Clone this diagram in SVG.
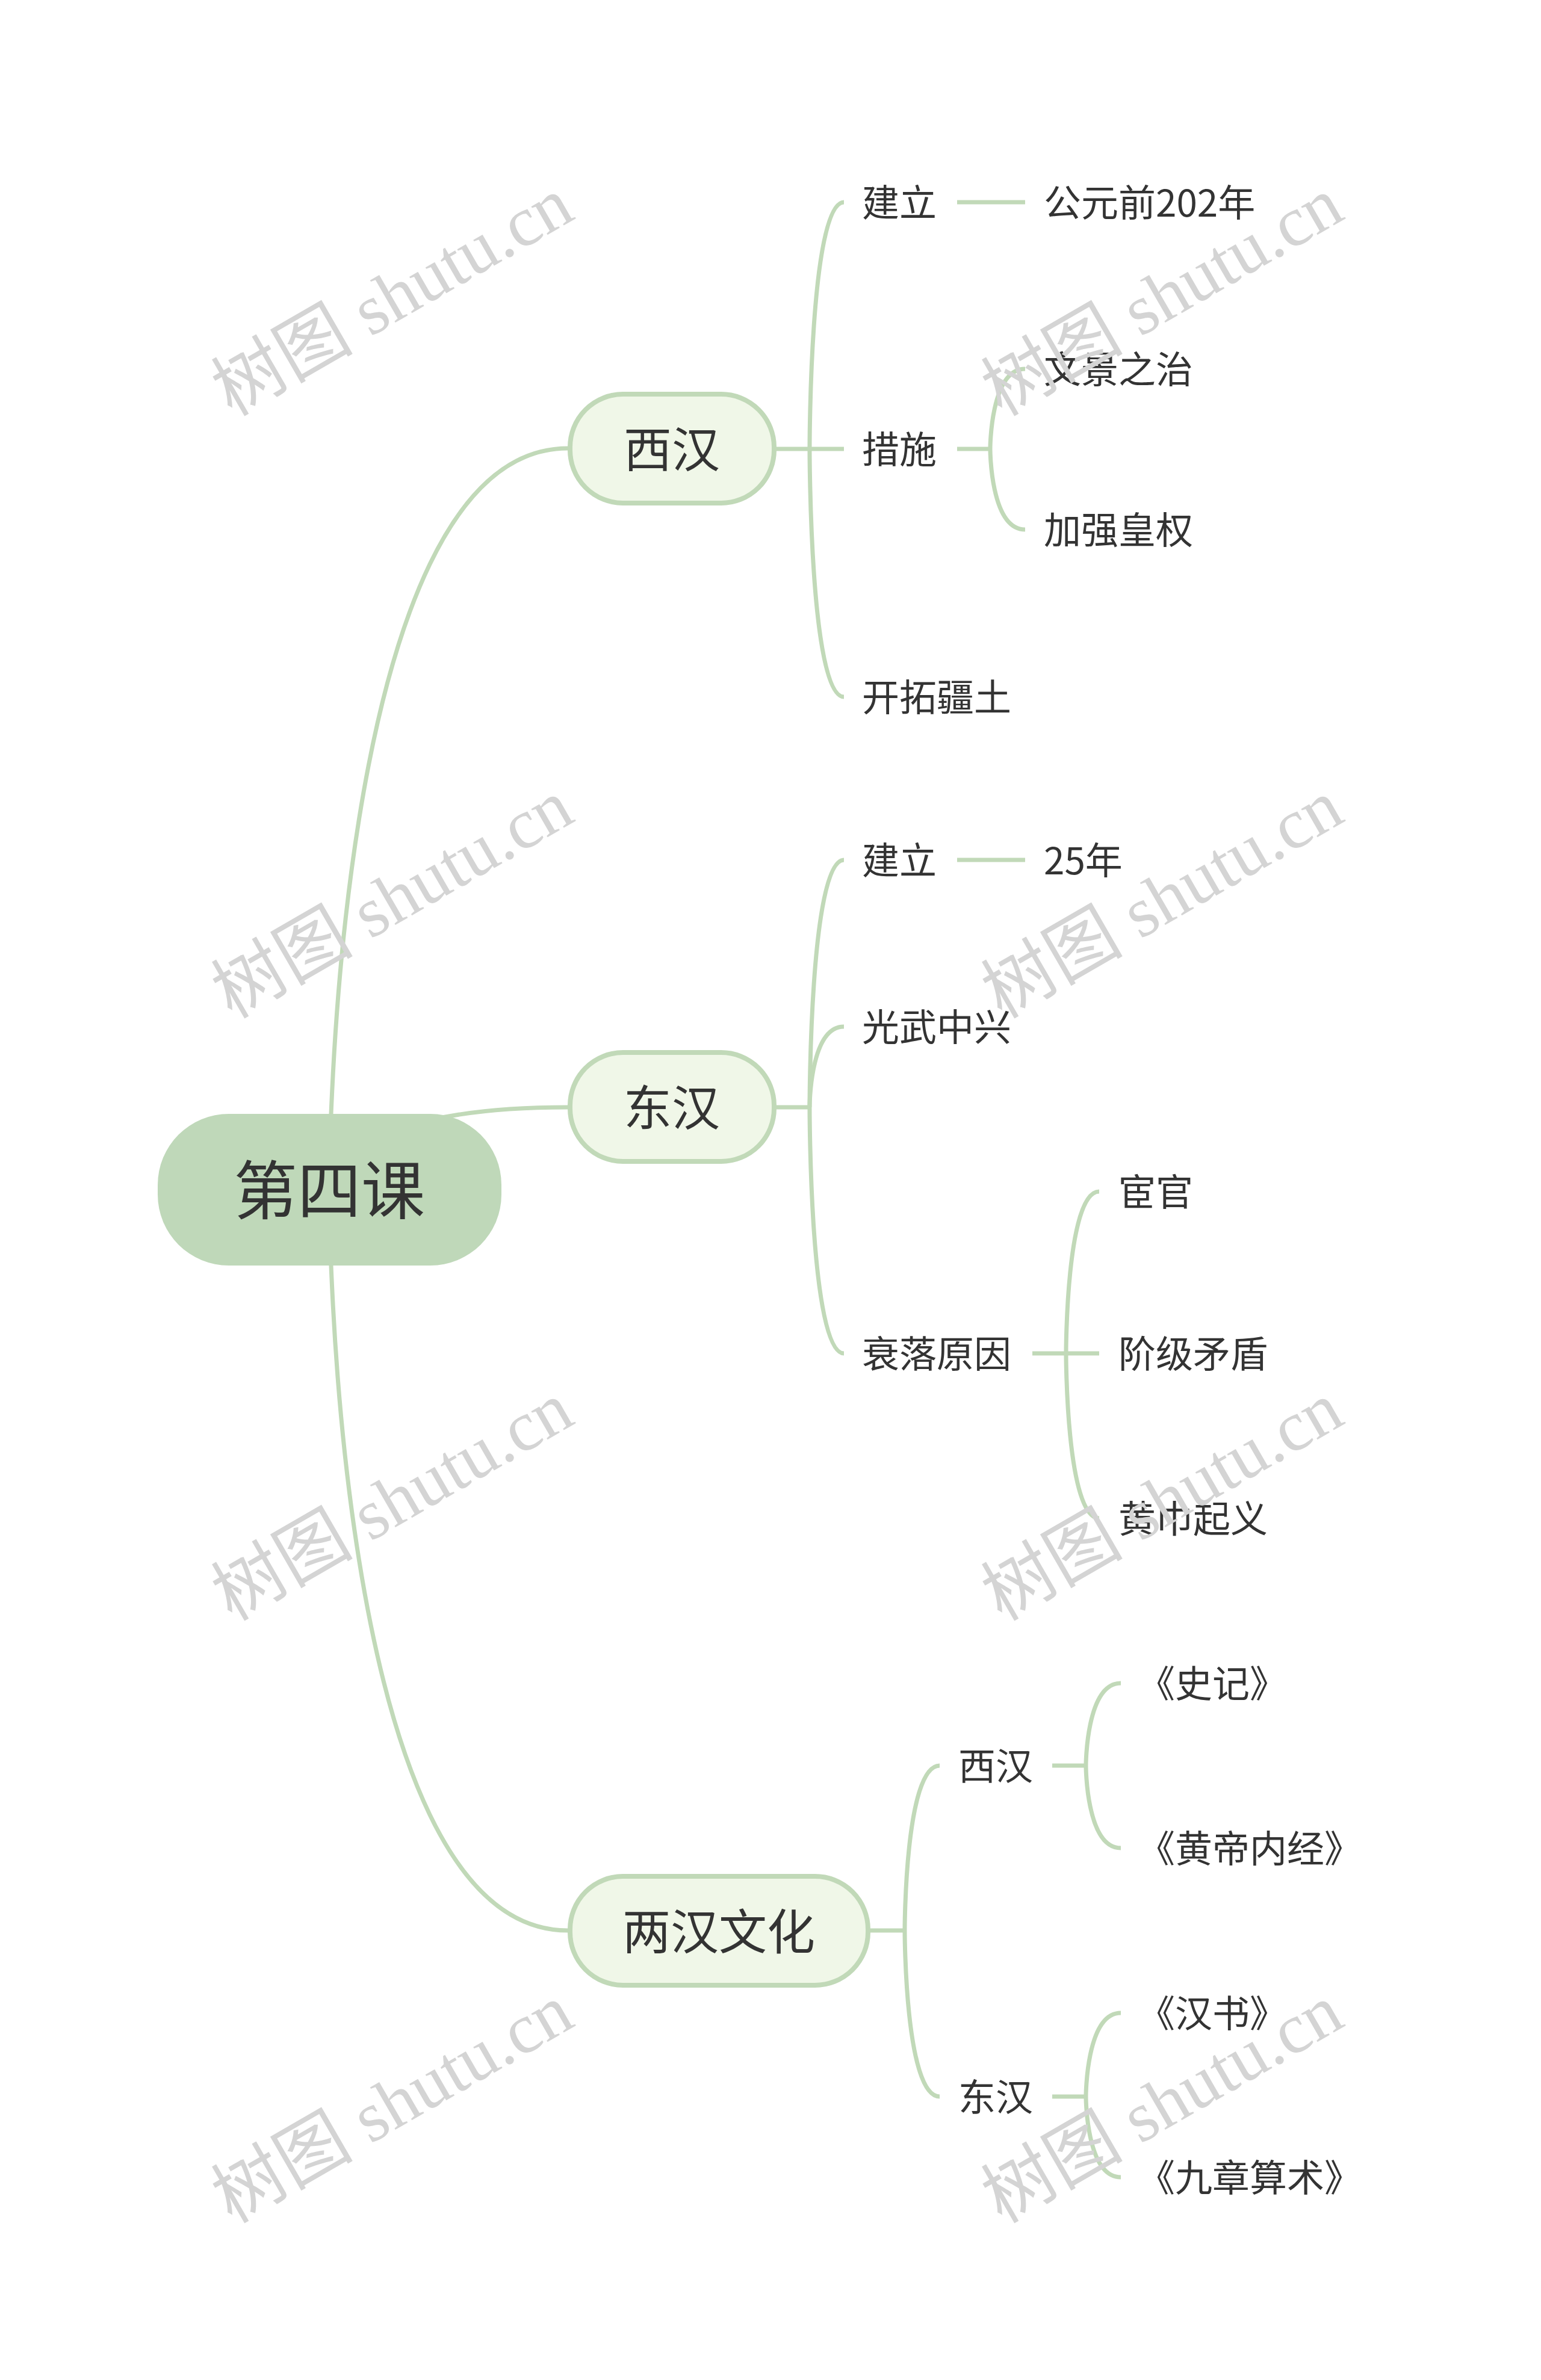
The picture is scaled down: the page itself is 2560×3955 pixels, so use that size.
<svg xmlns="http://www.w3.org/2000/svg" width="2560" height="3955" viewBox="0 0 2560 3955">
<style>
.bg{fill:#ffffff}
.ln{fill:none;stroke:#c1d9b8;stroke-width:7;stroke-linecap:butt}
.root rect{fill:#bfd8b9}
.l1 rect{fill:#f0f7e8;stroke:#c1d9b8;stroke-width:8}
text{font-family:"Noto Sans CJK SC","Noto Sans",sans-serif;fill:#333333}
.t0{font-size:106px}
.t1{font-size:80px}
.t2{font-size:62px}
.wm{font-family:"Liberation Serif","Noto Sans CJK SC",serif;font-size:118px;fill:#d4d4d4}
</style>
<rect class="bg" x="0" y="0" width="2560" height="3955"/>
<g id="connectors">
<path class="ln" d="M547 1977 C547 1977 547 745 943 745"/>
<path class="ln" d="M547 1977 C547 1977 547 1840 943 1840"/>
<path class="ln" d="M547 1977 C547 1977 547 3208 943 3208"/>
<path class="ln" d="M1290 746 H1402"/>
<path class="ln" d="M1345 746 C1345 746 1345 336 1402 336"/>
<path class="ln" d="M1345 746 C1345 746 1345 1158 1402 1158"/>
<path class="ln" d="M1590 336 H1703"/>
<path class="ln" d="M1590 746 H1645"/>
<path class="ln" d="M1645 746 C1645 746 1645 613 1703 613"/>
<path class="ln" d="M1645 746 C1645 746 1645 880 1703 880"/>
<path class="ln" d="M1290 1840 H1345"/>
<path class="ln" d="M1345 1840 C1345 1840 1345 1429 1402 1429"/>
<path class="ln" d="M1345 1840 C1345 1840 1345 1706 1402 1706"/>
<path class="ln" d="M1345 1840 C1345 1840 1345 2249 1402 2249"/>
<path class="ln" d="M1590 1429 H1703"/>
<path class="ln" d="M1715 2249 H1826"/>
<path class="ln" d="M1771 2249 C1771 2249 1771 1980 1826 1980"/>
<path class="ln" d="M1771 2249 C1771 2249 1771 2523 1826 2523"/>
<path class="ln" d="M1446 3208 H1503"/>
<path class="ln" d="M1503 3208 C1503 3208 1503 2934 1561 2934"/>
<path class="ln" d="M1503 3208 C1503 3208 1503 3484 1561 3484"/>
<path class="ln" d="M1748 2934 H1804"/>
<path class="ln" d="M1804 2934 C1804 2934 1804 2797 1862 2797"/>
<path class="ln" d="M1804 2934 C1804 2934 1804 3071 1862 3071"/>
<path class="ln" d="M1748 3484 H1804"/>
<path class="ln" d="M1804 3484 C1804 3484 1804 3345 1862 3345"/>
<path class="ln" d="M1804 3484 C1804 3484 1804 3618 1862 3618"/>
</g>
<g id="root" class="root"><rect x="262" y="1851" width="571" height="252" rx="118" ry="118"/><text class="t0" x="547" y="2017" text-anchor="middle">第四课</text></g>
<g id="xihan" class="l1"><rect x="947" y="655" width="339" height="181" rx="88" ry="88"/><text class="t1" x="1116" y="776" text-anchor="middle">西汉</text></g>
<g id="donghan" class="l1"><rect x="947" y="1749" width="339" height="181" rx="88" ry="88"/><text class="t1" x="1116" y="1870" text-anchor="middle">东汉</text></g>
<g id="lianghan" class="l1"><rect x="947" y="3118" width="495" height="181" rx="88" ry="88"/><text class="t1" x="1194" y="3239" text-anchor="middle">两汉文化</text></g>
<g id="xh-jianli"><text class="t2" x="1432" y="360">建立</text></g>
<g id="xh-year"><text class="t2" x="1734" y="360">公元前202年</text></g>
<g id="xh-cuoshi"><text class="t2" x="1432" y="770">措施</text></g>
<g id="xh-wenjing"><text class="t2" x="1734" y="637">文景之治</text></g>
<g id="xh-huangquan"><text class="t2" x="1734" y="904">加强皇权</text></g>
<g id="xh-kaituo"><text class="t2" x="1432" y="1182">开拓疆土</text></g>
<g id="dh-jianli"><text class="t2" x="1432" y="1453">建立</text></g>
<g id="dh-year"><text class="t2" x="1734" y="1453">25年</text></g>
<g id="dh-guangwu"><text class="t2" x="1432" y="1730">光武中兴</text></g>
<g id="dh-shuailuo"><text class="t2" x="1432" y="2273">衰落原因</text></g>
<g id="dh-huanguan"><text class="t2" x="1858" y="2004">宦官</text></g>
<g id="dh-jieji"><text class="t2" x="1858" y="2273">阶级矛盾</text></g>
<g id="dh-huangjin"><text class="t2" x="1858" y="2547">黄巾起义</text></g>
<g id="wh-xihan"><text class="t2" x="1592" y="2958">西汉</text></g>
<g id="wh-donghan"><text class="t2" x="1592" y="3508">东汉</text></g>
<g id="wh-shiji"><text class="t2" x="1890" y="2821">《史记》</text></g>
<g id="wh-huangdi"><text class="t2" x="1890" y="3095">《黄帝内经》</text></g>
<g id="wh-hanshu"><text class="t2" x="1890" y="3369">《汉书》</text></g>
<g id="wh-jiuzhang"><text class="t2" x="1890" y="3642">《九章算术》</text></g>
<g id="watermarks">
<text class="wm" x="385" y="693" transform="rotate(-30 385 693)">树图 shutu.cn</text>
<text class="wm" x="1664" y="693" transform="rotate(-30 1664 693)">树图 shutu.cn</text>
<text class="wm" x="385" y="1694" transform="rotate(-30 385 1694)">树图 shutu.cn</text>
<text class="wm" x="1664" y="1694" transform="rotate(-30 1664 1694)">树图 shutu.cn</text>
<text class="wm" x="385" y="2695" transform="rotate(-30 385 2695)">树图 shutu.cn</text>
<text class="wm" x="1664" y="2695" transform="rotate(-30 1664 2695)">树图 shutu.cn</text>
<text class="wm" x="385" y="3696" transform="rotate(-30 385 3696)">树图 shutu.cn</text>
<text class="wm" x="1664" y="3696" transform="rotate(-30 1664 3696)">树图 shutu.cn</text>
</g>
</svg>
